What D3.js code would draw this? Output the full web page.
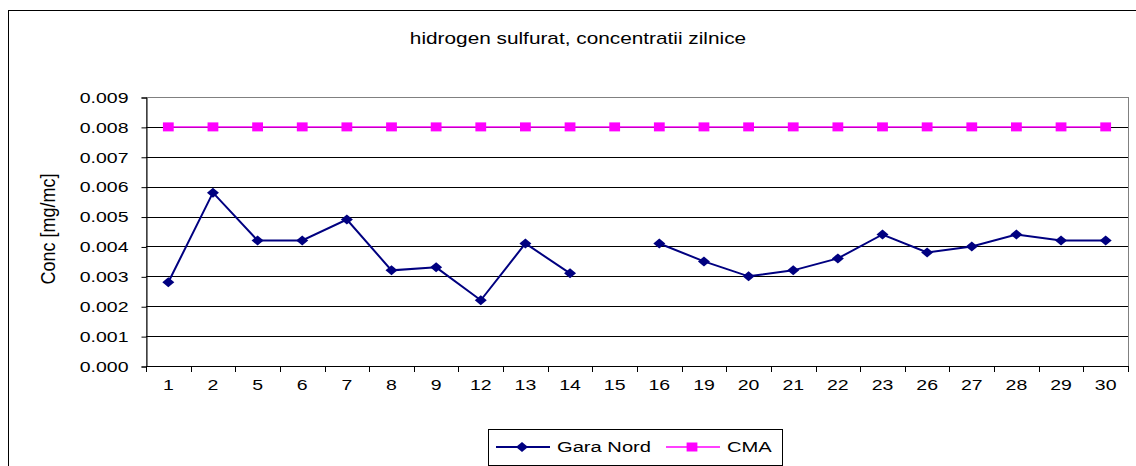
<!DOCTYPE html>
<html>
<head>
<meta charset="utf-8">
<script src="https://cdn.jsdelivr.net/npm/d3@7"></script>
<style>
  body { margin: 0; background: #fff; }
  svg { display: block; font-family: "Liberation Sans", Arial, sans-serif; }
</style>
</head>
<body>
<div id="chart"></div>
<script>
// days of the month with a measurement
const days = ["1", "2", "5", "6", "7", "8", "9", "12", "13", "14", "15", "16",
              "19", "20", "21", "22", "23", "26", "27", "28", "29", "30"];

// daily H2S concentration, Gara Nord station (no value on the 15th)
const garaNord = [0.0028, 0.0058, 0.0042, 0.0042, 0.0049, 0.0032, 0.0033, 0.0022,
                  0.0041, 0.0031, null, 0.0041, 0.0035, 0.0030, 0.0032, 0.0036,
                  0.0044, 0.0038, 0.0040, 0.0044, 0.0042, 0.0042];

// maximum admitted concentration
const cma = days.map(() => 0.008);

const yTicks = [0, 0.001, 0.002, 0.003, 0.004, 0.005, 0.006, 0.007, 0.008, 0.009];

const W = 1136, H = 466;
const plot = {left: 146, right: 1128, top: 97, bottom: 366};
const K = 1.3; // the original picture is stretched horizontally

// scale a text element horizontally around its own x anchor
function stretch(sel, k) {
  sel.attr("transform", function() {
    const x = +this.getAttribute("x") || 0;
    return "translate(" + (x * (1 - k)) + ",0) scale(" + k + ",1)";
  });
}

const svg = d3.select("#chart").append("svg")
  .attr("width", W)
  .attr("height", H);

svg.append("rect").attr("width", W).attr("height", H).attr("fill", "#fff");

// outer chart frame (runs off the right and bottom of the picture)
svg.append("rect")
  .attr("x", 8.5).attr("y", 10.5)
  .attr("width", W + 10).attr("height", H + 10)
  .attr("fill", "none").attr("stroke", "#000");

const x = d3.scaleBand().domain(days).range([plot.left, plot.right]);
const y = d3.scaleLinear().domain([0, 0.009]).range([plot.bottom, plot.top]);

// plot area border
svg.append("rect")
  .attr("x", plot.left + 0.5).attr("y", plot.top + 0.5)
  .attr("width", plot.right - plot.left).attr("height", plot.bottom - plot.top)
  .attr("fill", "none").attr("stroke", "#808080");

// horizontal gridlines
svg.append("g")
  .selectAll("line")
  .data(yTicks.slice(1, -1))
  .join("line")
    .attr("x1", plot.left).attr("x2", plot.right)
    .attr("y1", d => Math.round(y(d)) + 0.5)
    .attr("y2", d => Math.round(y(d)) + 0.5)
    .attr("stroke", "#000");

// y axis
const yAxis = svg.append("g")
  .attr("transform", "translate(" + (plot.left + 0.5) + ",0.5)")
  .call(d3.axisLeft(y).tickValues(yTicks).tickFormat(d3.format(".3f")).tickSize(5).tickPadding(13));
yAxis.select(".domain").attr("stroke", "#000");
yAxis.selectAll(".tick line").attr("stroke", "#000");
yAxis.selectAll("text")
  .attr("font-size", 15).attr("fill", "#000").attr("font-family", null)
  .call(stretch, K);

// x axis: labels at band centres, tick marks at band edges
const xAxis = svg.append("g")
  .attr("transform", "translate(0," + (plot.bottom + 0.5) + ")")
  .call(d3.axisBottom(x).tickSize(0).tickPadding(13));
xAxis.select(".domain").remove();
xAxis.selectAll("text")
  .attr("font-size", 15).attr("fill", "#000").attr("font-family", null)
  .call(stretch, K);

svg.append("line")
  .attr("x1", plot.left).attr("x2", plot.right + 1)
  .attr("y1", plot.bottom + 0.5).attr("y2", plot.bottom + 0.5)
  .attr("stroke", "#000");

svg.append("g")
  .selectAll("line")
  .data(days.concat(["end"]))
  .join("line")
    .attr("x1", d => Math.round(d === "end" ? plot.right : x(d)) + 0.5)
    .attr("x2", d => Math.round(d === "end" ? plot.right : x(d)) + 0.5)
    .attr("y1", plot.bottom)
    .attr("y2", plot.bottom + 6)
    .attr("stroke", "#000");

const cx = (d, i) => x(days[i]) + x.bandwidth() / 2;

// CMA series
svg.append("path")
  .datum(cma)
  .attr("fill", "none")
  .attr("stroke", "#ff00ff")
  .attr("stroke-width", 1.5)
  .attr("d", d3.line().x(cx).y(d => y(d)));

svg.append("g")
  .selectAll("path")
  .data(cma)
  .join("path")
    .attr("d", d3.symbol(d3.symbolSquare).size(81))
    .attr("fill", "#ff00ff")
    .attr("transform", (d, i) => "translate(" + cx(d, i) + "," + y(d) + ") scale(1.2,1)");

// Gara Nord series
svg.append("path")
  .datum(garaNord)
  .attr("fill", "none")
  .attr("stroke", "#000080")
  .attr("stroke-width", 2)
  .attr("d", d3.line().defined(d => d !== null).x(cx).y(d => y(d)));

svg.append("g")
  .selectAll("path")
  .data(garaNord.map((v, i) => ({v, i})).filter(d => d.v !== null))
  .join("path")
    .attr("d", d3.symbol(d3.symbolSquare).size(50))
    .attr("fill", "#000080")
    .attr("transform", d => "translate(" + cx(d.v, d.i) + "," + y(d.v) + ") scale(1.2,1) rotate(45)");

// title
svg.append("text")
  .attr("x", 578).attr("y", 44)
  .attr("text-anchor", "middle")
  .attr("font-size", 16)
  .text("hidrogen sulfurat, concentratii zilnice")
  .call(stretch, K);

// y axis title
svg.append("text")
  .attr("text-anchor", "middle")
  .attr("font-size", 15)
  .attr("transform", "translate(55,229) scale(" + K + ",1.2) rotate(-90)")
  .text("Conc [mg/mc]");

// legend
const legend = svg.append("g");
legend.append("rect")
  .attr("x", 488.5).attr("y", 429.5)
  .attr("width", 294).attr("height", 36)
  .attr("fill", "#fff").attr("stroke", "#000");

const items = [
  {name: "Gara Nord", color: "#000080", x0: 496, width: 2, symbol: "diamond"},
  {name: "CMA", color: "#ff00ff", x0: 666, width: 1.5, symbol: "square"}
];
items.forEach(it => {
  legend.append("line")
    .attr("x1", it.x0).attr("x2", it.x0 + 54)
    .attr("y1", 447).attr("y2", 447)
    .attr("stroke", it.color).attr("stroke-width", it.width);
  legend.append("path")
    .attr("d", d3.symbol(d3.symbolSquare).size(it.symbol === "diamond" ? 50 : 81))
    .attr("fill", it.color)
    .attr("transform", "translate(" + (it.x0 + 26) + ",447) scale(1.2,1)" + (it.symbol === "diamond" ? " rotate(45)" : ""));
  legend.append("text")
    .attr("x", it.x0 + 61).attr("y", 452.5)
    .attr("font-size", 15.5)
    .text(it.name)
    .call(stretch, K);
});
</script>
</body>
</html>
